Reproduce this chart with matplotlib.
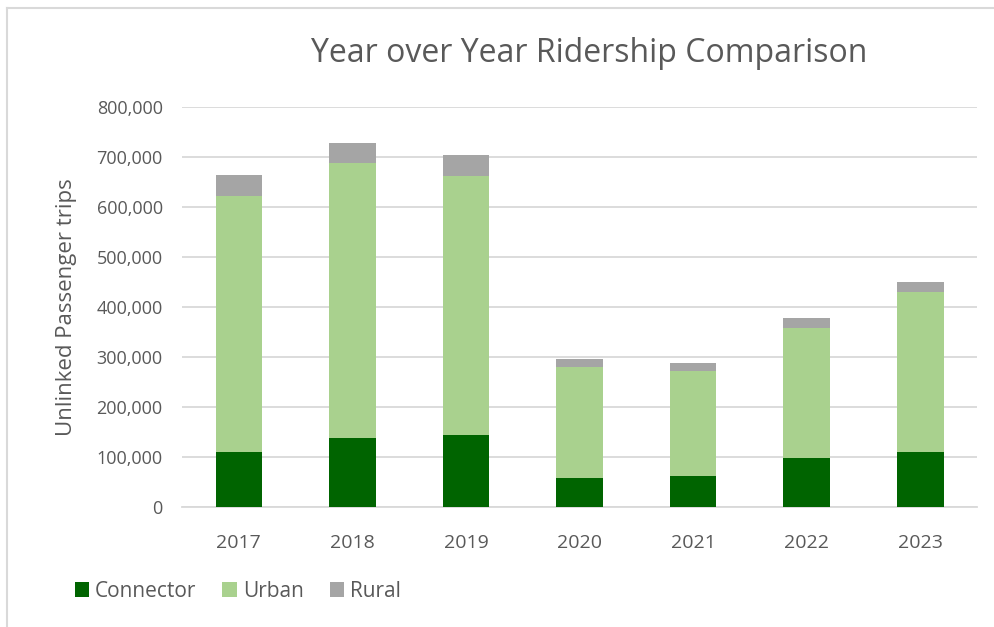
import matplotlib.pyplot as plt
from matplotlib.lines import Line2D
from matplotlib.ticker import FuncFormatter
import numpy as np

plt.rcParams['font.family'] = ['Open Sans', 'DejaVu Sans']

# Ridership by year (unlinked passenger trips)
years = ['2017', '2018', '2019', '2020', '2021', '2022', '2023']
connector = [111000, 137600, 143600, 59000, 61600, 98400, 109600]
urban = [512000, 551400, 519400, 220600, 211400, 259200, 321400]
rural = [42000, 40000, 42000, 16800, 14600, 20800, 20000]

text_col = '#595959'
grid_col = '#d9d9d9'

fig = plt.figure(figsize=(9.95, 6.27), dpi=100)
ax = fig.add_axes([0.183, 0.191, 0.799, 0.638])

x = np.arange(len(years))
w = 0.41
ax.bar(x, connector, w, color='#006400', label='Connector', zorder=3)
ax.bar(x, urban, w, bottom=connector, color='#a9d18e', label='Urban', zorder=3)
bottom2 = np.array(connector) + np.array(urban)
ax.bar(x, rural, w, bottom=bottom2, color='#a5a5a5', label='Rural', zorder=3)

ax.set_xlim(-0.5, len(years) - 0.5)
ax.set_ylim(0, 800000)
ax.set_yticks(np.arange(0, 800001, 100000))
ax.yaxis.set_major_formatter(FuncFormatter(lambda v, p: f'{int(v):,}'))
ax.set_xticks(x)
ax.set_xticklabels(years)
ax.grid(axis='y', color=grid_col, linewidth=1.3, zorder=0)
for s in ['top', 'right', 'left']:
    ax.spines[s].set_visible(False)
ax.spines['bottom'].set_color(grid_col)
ax.spines['bottom'].set_linewidth(1.3)
ax.tick_params(axis='y', length=0, labelsize=13, colors=text_col, pad=14)
ax.tick_params(axis='x', length=0, labelsize=14, colors=text_col, pad=19)
ax.set_ylabel('Unlinked Passenger trips', fontsize=16, color=text_col, labelpad=14)

fig.text(0.592, 0.914, 'Year over Year Ridership Comparison', ha='center', va='center',
         fontsize=23, color=text_col)

fig.legend(loc='center left', bbox_to_anchor=(0.075, 0.057), ncol=3, frameon=False,
           borderpad=0, borderaxespad=0, fontsize=15, labelcolor=text_col,
           handlelength=0.68, handleheight=0.68, handletextpad=0.3, columnspacing=1.25)

# chart frame (left and top edges visible)
fig.add_artist(Line2D([0.007, 0.007], [0, 0.987], color=grid_col, linewidth=1.5,
                      transform=fig.transFigure))
fig.add_artist(Line2D([0.007, 1.0], [0.987, 0.987], color=grid_col, linewidth=1.5,
                      transform=fig.transFigure))

fig.savefig('out.png', dpi=100)
